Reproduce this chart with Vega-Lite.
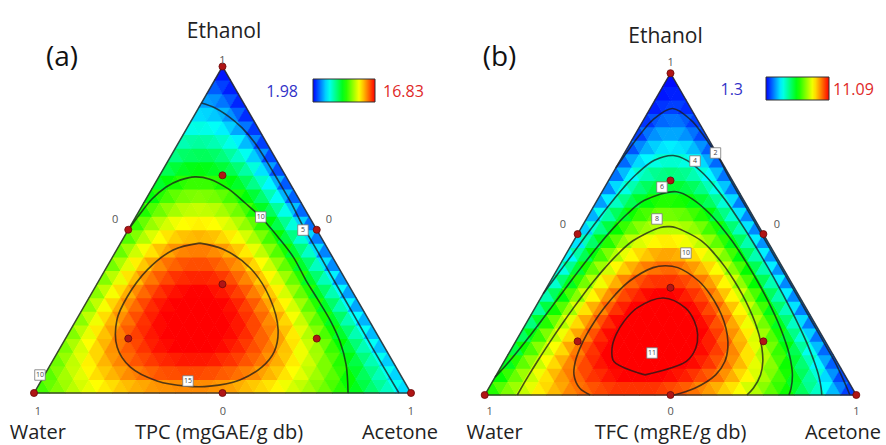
{
"$schema": "https://vega.github.io/schema/vega-lite/v6.json",
"padding": 0,
"spacing": 0,
"bounds": "flush",
"background": "white",
"config": {"view": {"stroke": null}, "font": "Open Sans"},
"resolve": {"scale": {"color": "independent"}, "legend": {"color": "independent"}},
"datasets": {
"tri": [{"o":0,"e":0,"a":0},{"o":1,"e":1,"a":0},{"o":2,"e":0,"a":1},{"o":3,"e":0,"a":0}],
"design": [{"e":0,"a":0},{"e":1,"a":0},{"e":0,"a":1},{"e":0.5,"a":0},{"e":0.5,"a":0.5},{"e":0,"a":0.5},{"e":0.3333,"a":0.3333},{"e":0.1667,"a":0.1667},{"e":0.6667,"a":0.1667},{"e":0.1667,"a":0.6667}],
"cellsA": [
{"r":0,"c":0,"v":10.4},{"r":0,"c":1,"v":10.9},{"r":0,"c":2,"v":11.3},{"r":0,"c":3,"v":11.7},{"r":0,"c":4,"v":12.1},{"r":0,"c":5,"v":12.5},{"r":0,"c":6,"v":12.8},{"r":0,"c":7,"v":13.1},{"r":0,"c":8,"v":13.4},{"r":0,"c":9,"v":13.6},{"r":0,"c":10,"v":13.9},{"r":0,"c":11,"v":14.1},{"r":0,"c":12,"v":14.3},{"r":0,"c":13,"v":14.4},{"r":0,"c":14,"v":14.6},{"r":0,"c":15,"v":14.7},{"r":0,"c":16,"v":14.7},{"r":0,"c":17,"v":14.8},{"r":0,"c":18,"v":14.8},{"r":0,"c":19,"v":14.8},{"r":0,"c":20,"v":14.8},{"r":0,"c":21,"v":14.8},{"r":0,"c":22,"v":14.7},{"r":0,"c":23,"v":14.6},{"r":0,"c":24,"v":14.5},{"r":0,"c":25,"v":14.3},{"r":0,"c":26,"v":14.1},{"r":0,"c":27,"v":13.9},{"r":0,"c":28,"v":13.7},{"r":0,"c":29,"v":13.5},{"r":0,"c":30,"v":13.2},{"r":0,"c":31,"v":12.9},{"r":0,"c":32,"v":12.5},{"r":0,"c":33,"v":12.2},{"r":0,"c":34,"v":11.8},{"r":0,"c":35,"v":11.4},{"r":0,"c":36,"v":11.0},{"r":0,"c":37,"v":10.5},{"r":0,"c":38,"v":10.0},{"r":0,"c":39,"v":9.5},{"r":0,"c":40,"v":9.0},{"r":0,"c":41,"v":8.4},{"r":0,"c":42,"v":7.8},{"r":0,"c":43,"v":7.2},{"r":0,"c":44,"v":6.6},{"r":0,"c":45,"v":5.9},{"r":0,"c":46,"v":5.2},
{"r":1,"c":0,"v":10.7},{"r":1,"c":1,"v":11.3},{"r":1,"c":2,"v":11.8},{"r":1,"c":3,"v":12.3},{"r":1,"c":4,"v":12.7},{"r":1,"c":5,"v":13.2},{"r":1,"c":6,"v":13.6},{"r":1,"c":7,"v":13.9},{"r":1,"c":8,"v":14.2},{"r":1,"c":9,"v":14.5},{"r":1,"c":10,"v":14.8},{"r":1,"c":11,"v":15.0},{"r":1,"c":12,"v":15.2},{"r":1,"c":13,"v":15.4},{"r":1,"c":14,"v":15.6},{"r":1,"c":15,"v":15.7},{"r":1,"c":16,"v":15.7},{"r":1,"c":17,"v":15.8},{"r":1,"c":18,"v":15.8},{"r":1,"c":19,"v":15.8},{"r":1,"c":20,"v":15.7},{"r":1,"c":21,"v":15.7},{"r":1,"c":22,"v":15.5},{"r":1,"c":23,"v":15.4},{"r":1,"c":24,"v":15.2},{"r":1,"c":25,"v":15.0},{"r":1,"c":26,"v":14.8},{"r":1,"c":27,"v":14.5},{"r":1,"c":28,"v":14.2},{"r":1,"c":29,"v":13.9},{"r":1,"c":30,"v":13.5},{"r":1,"c":31,"v":13.1},{"r":1,"c":32,"v":12.7},{"r":1,"c":33,"v":12.2},{"r":1,"c":34,"v":11.7},{"r":1,"c":35,"v":11.2},{"r":1,"c":36,"v":10.7},{"r":1,"c":37,"v":10.1},{"r":1,"c":38,"v":9.5},{"r":1,"c":39,"v":8.8},{"r":1,"c":40,"v":8.1},{"r":1,"c":41,"v":7.4},{"r":1,"c":42,"v":6.7},{"r":1,"c":43,"v":5.9},{"r":1,"c":44,"v":5.1},
{"r":2,"c":0,"v":11.0},{"r":2,"c":1,"v":11.6},{"r":2,"c":2,"v":12.2},{"r":2,"c":3,"v":12.7},{"r":2,"c":4,"v":13.3},{"r":2,"c":5,"v":13.7},{"r":2,"c":6,"v":14.2},{"r":2,"c":7,"v":14.6},{"r":2,"c":8,"v":14.9},{"r":2,"c":9,"v":15.3},{"r":2,"c":10,"v":15.6},{"r":2,"c":11,"v":15.8},{"r":2,"c":12,"v":16.0},{"r":2,"c":13,"v":16.2},{"r":2,"c":14,"v":16.3},{"r":2,"c":15,"v":16.4},{"r":2,"c":16,"v":16.5},{"r":2,"c":17,"v":16.5},{"r":2,"c":18,"v":16.5},{"r":2,"c":19,"v":16.5},{"r":2,"c":20,"v":16.4},{"r":2,"c":21,"v":16.2},{"r":2,"c":22,"v":16.1},{"r":2,"c":23,"v":15.9},{"r":2,"c":24,"v":15.6},{"r":2,"c":25,"v":15.4},{"r":2,"c":26,"v":15.1},{"r":2,"c":27,"v":14.7},{"r":2,"c":28,"v":14.3},{"r":2,"c":29,"v":13.9},{"r":2,"c":30,"v":13.4},{"r":2,"c":31,"v":12.9},{"r":2,"c":32,"v":12.4},{"r":2,"c":33,"v":11.8},{"r":2,"c":34,"v":11.2},{"r":2,"c":35,"v":10.6},{"r":2,"c":36,"v":9.9},{"r":2,"c":37,"v":9.2},{"r":2,"c":38,"v":8.4},{"r":2,"c":39,"v":7.6},{"r":2,"c":40,"v":6.8},{"r":2,"c":41,"v":5.9},{"r":2,"c":42,"v":5.0},
{"r":3,"c":0,"v":11.2},{"r":3,"c":1,"v":11.9},{"r":3,"c":2,"v":12.5},{"r":3,"c":3,"v":13.1},{"r":3,"c":4,"v":13.7},{"r":3,"c":5,"v":14.2},{"r":3,"c":6,"v":14.7},{"r":3,"c":7,"v":15.1},{"r":3,"c":8,"v":15.5},{"r":3,"c":9,"v":15.8},{"r":3,"c":10,"v":16.1},{"r":3,"c":11,"v":16.4},{"r":3,"c":12,"v":16.6},{"r":3,"c":13,"v":16.7},{"r":3,"c":14,"v":16.9},{"r":3,"c":15,"v":17.0},{"r":3,"c":16,"v":17.0},{"r":3,"c":17,"v":17.0},{"r":3,"c":18,"v":16.9},{"r":3,"c":19,"v":16.8},{"r":3,"c":20,"v":16.7},{"r":3,"c":21,"v":16.5},{"r":3,"c":22,"v":16.3},{"r":3,"c":23,"v":16.0},{"r":3,"c":24,"v":15.7},{"r":3,"c":25,"v":15.4},{"r":3,"c":26,"v":15.0},{"r":3,"c":27,"v":14.5},{"r":3,"c":28,"v":14.0},{"r":3,"c":29,"v":13.5},{"r":3,"c":30,"v":12.9},{"r":3,"c":31,"v":12.3},{"r":3,"c":32,"v":11.7},{"r":3,"c":33,"v":11.0},{"r":3,"c":34,"v":10.2},{"r":3,"c":35,"v":9.4},{"r":3,"c":36,"v":8.6},{"r":3,"c":37,"v":7.7},{"r":3,"c":38,"v":6.8},{"r":3,"c":39,"v":5.8},{"r":3,"c":40,"v":4.8},
{"r":4,"c":0,"v":11.3},{"r":4,"c":1,"v":12.1},{"r":4,"c":2,"v":12.8},{"r":4,"c":3,"v":13.4},{"r":4,"c":4,"v":14.0},{"r":4,"c":5,"v":14.5},{"r":4,"c":6,"v":15.0},{"r":4,"c":7,"v":15.5},{"r":4,"c":8,"v":15.9},{"r":4,"c":9,"v":16.2},{"r":4,"c":10,"v":16.5},{"r":4,"c":11,"v":16.7},{"r":4,"c":12,"v":16.9},{"r":4,"c":13,"v":17.1},{"r":4,"c":14,"v":17.2},{"r":4,"c":15,"v":17.2},{"r":4,"c":16,"v":17.2},{"r":4,"c":17,"v":17.2},{"r":4,"c":18,"v":17.1},{"r":4,"c":19,"v":16.9},{"r":4,"c":20,"v":16.7},{"r":4,"c":21,"v":16.5},{"r":4,"c":22,"v":16.2},{"r":4,"c":23,"v":15.8},{"r":4,"c":24,"v":15.4},{"r":4,"c":25,"v":15.0},{"r":4,"c":26,"v":14.5},{"r":4,"c":27,"v":14.0},{"r":4,"c":28,"v":13.4},{"r":4,"c":29,"v":12.7},{"r":4,"c":30,"v":12.0},{"r":4,"c":31,"v":11.3},{"r":4,"c":32,"v":10.5},{"r":4,"c":33,"v":9.6},{"r":4,"c":34,"v":8.8},{"r":4,"c":35,"v":7.8},{"r":4,"c":36,"v":6.8},{"r":4,"c":37,"v":5.8},{"r":4,"c":38,"v":4.7},
{"r":5,"c":0,"v":11.4},{"r":5,"c":1,"v":12.2},{"r":5,"c":2,"v":12.9},{"r":5,"c":3,"v":13.6},{"r":5,"c":4,"v":14.2},{"r":5,"c":5,"v":14.7},{"r":5,"c":6,"v":15.2},{"r":5,"c":7,"v":15.7},{"r":5,"c":8,"v":16.1},{"r":5,"c":9,"v":16.4},{"r":5,"c":10,"v":16.7},{"r":5,"c":11,"v":16.9},{"r":5,"c":12,"v":17.1},{"r":5,"c":13,"v":17.2},{"r":5,"c":14,"v":17.3},{"r":5,"c":15,"v":17.3},{"r":5,"c":16,"v":17.2},{"r":5,"c":17,"v":17.1},{"r":5,"c":18,"v":17.0},{"r":5,"c":19,"v":16.7},{"r":5,"c":20,"v":16.5},{"r":5,"c":21,"v":16.1},{"r":5,"c":22,"v":15.8},{"r":5,"c":23,"v":15.3},{"r":5,"c":24,"v":14.8},{"r":5,"c":25,"v":14.3},{"r":5,"c":26,"v":13.7},{"r":5,"c":27,"v":13.0},{"r":5,"c":28,"v":12.3},{"r":5,"c":29,"v":11.5},{"r":5,"c":30,"v":10.7},{"r":5,"c":31,"v":9.8},{"r":5,"c":32,"v":8.9},{"r":5,"c":33,"v":7.9},{"r":5,"c":34,"v":6.8},{"r":5,"c":35,"v":5.7},{"r":5,"c":36,"v":4.6},
{"r":6,"c":0,"v":11.4},{"r":6,"c":1,"v":12.2},{"r":6,"c":2,"v":13.0},{"r":6,"c":3,"v":13.7},{"r":6,"c":4,"v":14.3},{"r":6,"c":5,"v":14.8},{"r":6,"c":6,"v":15.3},{"r":6,"c":7,"v":15.8},{"r":6,"c":8,"v":16.2},{"r":6,"c":9,"v":16.5},{"r":6,"c":10,"v":16.7},{"r":6,"c":11,"v":16.9},{"r":6,"c":12,"v":17.1},{"r":6,"c":13,"v":17.1},{"r":6,"c":14,"v":17.1},{"r":6,"c":15,"v":17.1},{"r":6,"c":16,"v":17.0},{"r":6,"c":17,"v":16.8},{"r":6,"c":18,"v":16.6},{"r":6,"c":19,"v":16.3},{"r":6,"c":20,"v":15.9},{"r":6,"c":21,"v":15.5},{"r":6,"c":22,"v":15.0},{"r":6,"c":23,"v":14.4},{"r":6,"c":24,"v":13.8},{"r":6,"c":25,"v":13.2},{"r":6,"c":26,"v":12.5},{"r":6,"c":27,"v":11.7},{"r":6,"c":28,"v":10.8},{"r":6,"c":29,"v":9.9},{"r":6,"c":30,"v":8.9},{"r":6,"c":31,"v":7.9},{"r":6,"c":32,"v":6.8},{"r":6,"c":33,"v":5.6},{"r":6,"c":34,"v":4.4},
{"r":7,"c":0,"v":11.4},{"r":7,"c":1,"v":12.2},{"r":7,"c":2,"v":13.0},{"r":7,"c":3,"v":13.6},{"r":7,"c":4,"v":14.3},{"r":7,"c":5,"v":14.8},{"r":7,"c":6,"v":15.3},{"r":7,"c":7,"v":15.7},{"r":7,"c":8,"v":16.1},{"r":7,"c":9,"v":16.4},{"r":7,"c":10,"v":16.6},{"r":7,"c":11,"v":16.7},{"r":7,"c":12,"v":16.8},{"r":7,"c":13,"v":16.8},{"r":7,"c":14,"v":16.8},{"r":7,"c":15,"v":16.6},{"r":7,"c":16,"v":16.5},{"r":7,"c":17,"v":16.2},{"r":7,"c":18,"v":15.9},{"r":7,"c":19,"v":15.5},{"r":7,"c":20,"v":15.0},{"r":7,"c":21,"v":14.5},{"r":7,"c":22,"v":13.9},{"r":7,"c":23,"v":13.3},{"r":7,"c":24,"v":12.5},{"r":7,"c":25,"v":11.7},{"r":7,"c":26,"v":10.9},{"r":7,"c":27,"v":9.9},{"r":7,"c":28,"v":8.9},{"r":7,"c":29,"v":7.9},{"r":7,"c":30,"v":6.8},{"r":7,"c":31,"v":5.6},{"r":7,"c":32,"v":4.3},
{"r":8,"c":0,"v":11.3},{"r":8,"c":1,"v":12.1},{"r":8,"c":2,"v":12.8},{"r":8,"c":3,"v":13.5},{"r":8,"c":4,"v":14.1},{"r":8,"c":5,"v":14.7},{"r":8,"c":6,"v":15.1},{"r":8,"c":7,"v":15.5},{"r":8,"c":8,"v":15.8},{"r":8,"c":9,"v":16.1},{"r":8,"c":10,"v":16.2},{"r":8,"c":11,"v":16.3},{"r":8,"c":12,"v":16.3},{"r":8,"c":13,"v":16.3},{"r":8,"c":14,"v":16.2},{"r":8,"c":15,"v":16.0},{"r":8,"c":16,"v":15.7},{"r":8,"c":17,"v":15.3},{"r":8,"c":18,"v":14.9},{"r":8,"c":19,"v":14.4},{"r":8,"c":20,"v":13.9},{"r":8,"c":21,"v":13.2},{"r":8,"c":22,"v":12.5},{"r":8,"c":23,"v":11.7},{"r":8,"c":24,"v":10.9},{"r":8,"c":25,"v":9.9},{"r":8,"c":26,"v":8.9},{"r":8,"c":27,"v":7.8},{"r":8,"c":28,"v":6.7},{"r":8,"c":29,"v":5.5},{"r":8,"c":30,"v":4.2},
{"r":9,"c":0,"v":11.1},{"r":9,"c":1,"v":11.9},{"r":9,"c":2,"v":12.7},{"r":9,"c":3,"v":13.3},{"r":9,"c":4,"v":13.9},{"r":9,"c":5,"v":14.4},{"r":9,"c":6,"v":14.8},{"r":9,"c":7,"v":15.2},{"r":9,"c":8,"v":15.4},{"r":9,"c":9,"v":15.6},{"r":9,"c":10,"v":15.7},{"r":9,"c":11,"v":15.7},{"r":9,"c":12,"v":15.7},{"r":9,"c":13,"v":15.5},{"r":9,"c":14,"v":15.3},{"r":9,"c":15,"v":15.0},{"r":9,"c":16,"v":14.7},{"r":9,"c":17,"v":14.2},{"r":9,"c":18,"v":13.7},{"r":9,"c":19,"v":13.1},{"r":9,"c":20,"v":12.4},{"r":9,"c":21,"v":11.6},{"r":9,"c":22,"v":10.8},{"r":9,"c":23,"v":9.8},{"r":9,"c":24,"v":8.8},{"r":9,"c":25,"v":7.8},{"r":9,"c":26,"v":6.6},{"r":9,"c":27,"v":5.3},{"r":9,"c":28,"v":4.0},
{"r":10,"c":0,"v":10.9},{"r":10,"c":1,"v":11.7},{"r":10,"c":2,"v":12.4},{"r":10,"c":3,"v":13.0},{"r":10,"c":4,"v":13.5},{"r":10,"c":5,"v":14.0},{"r":10,"c":6,"v":14.4},{"r":10,"c":7,"v":14.7},{"r":10,"c":8,"v":14.9},{"r":10,"c":9,"v":15.0},{"r":10,"c":10,"v":15.0},{"r":10,"c":11,"v":15.0},{"r":10,"c":12,"v":14.8},{"r":10,"c":13,"v":14.6},{"r":10,"c":14,"v":14.3},{"r":10,"c":15,"v":13.9},{"r":10,"c":16,"v":13.4},{"r":10,"c":17,"v":12.8},{"r":10,"c":18,"v":12.2},{"r":10,"c":19,"v":11.4},{"r":10,"c":20,"v":10.6},{"r":10,"c":21,"v":9.7},{"r":10,"c":22,"v":8.7},{"r":10,"c":23,"v":7.6},{"r":10,"c":24,"v":6.5},{"r":10,"c":25,"v":5.2},{"r":10,"c":26,"v":3.9},
{"r":11,"c":0,"v":10.6},{"r":11,"c":1,"v":11.3},{"r":11,"c":2,"v":12.0},{"r":11,"c":3,"v":12.6},{"r":11,"c":4,"v":13.1},{"r":11,"c":5,"v":13.5},{"r":11,"c":6,"v":13.8},{"r":11,"c":7,"v":14.0},{"r":11,"c":8,"v":14.1},{"r":11,"c":9,"v":14.2},{"r":11,"c":10,"v":14.1},{"r":11,"c":11,"v":14.0},{"r":11,"c":12,"v":13.7},{"r":11,"c":13,"v":13.4},{"r":11,"c":14,"v":13.0},{"r":11,"c":15,"v":12.5},{"r":11,"c":16,"v":11.9},{"r":11,"c":17,"v":11.2},{"r":11,"c":18,"v":10.4},{"r":11,"c":19,"v":9.5},{"r":11,"c":20,"v":8.5},{"r":11,"c":21,"v":7.5},{"r":11,"c":22,"v":6.3},{"r":11,"c":23,"v":5.1},{"r":11,"c":24,"v":3.8},
{"r":12,"c":0,"v":10.2},{"r":12,"c":1,"v":10.9},{"r":12,"c":2,"v":11.6},{"r":12,"c":3,"v":12.1},{"r":12,"c":4,"v":12.5},{"r":12,"c":5,"v":12.9},{"r":12,"c":6,"v":13.1},{"r":12,"c":7,"v":13.2},{"r":12,"c":8,"v":13.3},{"r":12,"c":9,"v":13.2},{"r":12,"c":10,"v":13.1},{"r":12,"c":11,"v":12.8},{"r":12,"c":12,"v":12.5},{"r":12,"c":13,"v":12.0},{"r":12,"c":14,"v":11.5},{"r":12,"c":15,"v":10.8},{"r":12,"c":16,"v":10.1},{"r":12,"c":17,"v":9.3},{"r":12,"c":18,"v":8.3},{"r":12,"c":19,"v":7.3},{"r":12,"c":20,"v":6.2},{"r":12,"c":21,"v":5.0},{"r":12,"c":22,"v":3.6},
{"r":13,"c":0,"v":9.8},{"r":13,"c":1,"v":10.5},{"r":13,"c":2,"v":11.0},{"r":13,"c":3,"v":11.5},{"r":13,"c":4,"v":11.8},{"r":13,"c":5,"v":12.1},{"r":13,"c":6,"v":12.2},{"r":13,"c":7,"v":12.3},{"r":13,"c":8,"v":12.2},{"r":13,"c":9,"v":12.1},{"r":13,"c":10,"v":11.8},{"r":13,"c":11,"v":11.4},{"r":13,"c":12,"v":11.0},{"r":13,"c":13,"v":10.4},{"r":13,"c":14,"v":9.7},{"r":13,"c":15,"v":8.9},{"r":13,"c":16,"v":8.1},{"r":13,"c":17,"v":7.1},{"r":13,"c":18,"v":6.0},{"r":13,"c":19,"v":4.8},{"r":13,"c":20,"v":3.5},
{"r":14,"c":0,"v":9.3},{"r":14,"c":1,"v":9.9},{"r":14,"c":2,"v":10.4},{"r":14,"c":3,"v":10.8},{"r":14,"c":4,"v":11.1},{"r":14,"c":5,"v":11.2},{"r":14,"c":6,"v":11.3},{"r":14,"c":7,"v":11.2},{"r":14,"c":8,"v":11.1},{"r":14,"c":9,"v":10.8},{"r":14,"c":10,"v":10.4},{"r":14,"c":11,"v":9.9},{"r":14,"c":12,"v":9.3},{"r":14,"c":13,"v":8.6},{"r":14,"c":14,"v":7.8},{"r":14,"c":15,"v":6.8},{"r":14,"c":16,"v":5.8},{"r":14,"c":17,"v":4.6},{"r":14,"c":18,"v":3.4},
{"r":15,"c":0,"v":8.8},{"r":15,"c":1,"v":9.3},{"r":15,"c":2,"v":9.7},{"r":15,"c":3,"v":10.0},{"r":15,"c":4,"v":10.2},{"r":15,"c":5,"v":10.2},{"r":15,"c":6,"v":10.2},{"r":15,"c":7,"v":10.0},{"r":15,"c":8,"v":9.7},{"r":15,"c":9,"v":9.3},{"r":15,"c":10,"v":8.8},{"r":15,"c":11,"v":8.1},{"r":15,"c":12,"v":7.4},{"r":15,"c":13,"v":6.5},{"r":15,"c":14,"v":5.6},{"r":15,"c":15,"v":4.5},{"r":15,"c":16,"v":3.3},
{"r":16,"c":0,"v":8.2},{"r":16,"c":1,"v":8.6},{"r":16,"c":2,"v":8.9},{"r":16,"c":3,"v":9.1},{"r":16,"c":4,"v":9.2},{"r":16,"c":5,"v":9.1},{"r":16,"c":6,"v":8.9},{"r":16,"c":7,"v":8.6},{"r":16,"c":8,"v":8.2},{"r":16,"c":9,"v":7.7},{"r":16,"c":10,"v":7.0},{"r":16,"c":11,"v":6.2},{"r":16,"c":12,"v":5.3},{"r":16,"c":13,"v":4.3},{"r":16,"c":14,"v":3.1},
{"r":17,"c":0,"v":7.5},{"r":17,"c":1,"v":7.9},{"r":17,"c":2,"v":8.0},{"r":17,"c":3,"v":8.1},{"r":17,"c":4,"v":8.1},{"r":17,"c":5,"v":7.9},{"r":17,"c":6,"v":7.6},{"r":17,"c":7,"v":7.1},{"r":17,"c":8,"v":6.5},{"r":17,"c":9,"v":5.9},{"r":17,"c":10,"v":5.0},{"r":17,"c":11,"v":4.1},{"r":17,"c":12,"v":3.0},
{"r":18,"c":0,"v":6.8},{"r":18,"c":1,"v":7.0},{"r":18,"c":2,"v":7.1},{"r":18,"c":3,"v":7.0},{"r":18,"c":4,"v":6.8},{"r":18,"c":5,"v":6.5},{"r":18,"c":6,"v":6.0},{"r":18,"c":7,"v":5.5},{"r":18,"c":8,"v":4.7},{"r":18,"c":9,"v":3.9},{"r":18,"c":10,"v":2.9},
{"r":19,"c":0,"v":6.0},{"r":19,"c":1,"v":6.1},{"r":19,"c":2,"v":6.0},{"r":19,"c":3,"v":5.8},{"r":19,"c":4,"v":5.5},{"r":19,"c":5,"v":5.0},{"r":19,"c":6,"v":4.4},{"r":19,"c":7,"v":3.7},{"r":19,"c":8,"v":2.8},
{"r":20,"c":0,"v":5.2},{"r":20,"c":1,"v":5.1},{"r":20,"c":2,"v":4.9},{"r":20,"c":3,"v":4.6},{"r":20,"c":4,"v":4.1},{"r":20,"c":5,"v":3.4},{"r":20,"c":6,"v":2.6},
{"r":21,"c":0,"v":4.3},{"r":21,"c":1,"v":4.1},{"r":21,"c":2,"v":3.7},{"r":21,"c":3,"v":3.2},{"r":21,"c":4,"v":2.5},
{"r":22,"c":0,"v":3.3},{"r":22,"c":1,"v":2.9},{"r":22,"c":2,"v":2.4},
{"r":23,"c":0,"v":2.3}
],
"cellsB": [
{"r":0,"c":0,"v":6.5},{"r":0,"c":1,"v":7.0},{"r":0,"c":2,"v":7.4},{"r":0,"c":3,"v":7.7},{"r":0,"c":4,"v":8.1},{"r":0,"c":5,"v":8.4},{"r":0,"c":6,"v":8.8},{"r":0,"c":7,"v":9.0},{"r":0,"c":8,"v":9.3},{"r":0,"c":9,"v":9.5},{"r":0,"c":10,"v":9.8},{"r":0,"c":11,"v":10.0},{"r":0,"c":12,"v":10.1},{"r":0,"c":13,"v":10.3},{"r":0,"c":14,"v":10.4},{"r":0,"c":15,"v":10.5},{"r":0,"c":16,"v":10.6},{"r":0,"c":17,"v":10.6},{"r":0,"c":18,"v":10.6},{"r":0,"c":19,"v":10.6},{"r":0,"c":20,"v":10.6},{"r":0,"c":21,"v":10.6},{"r":0,"c":22,"v":10.5},{"r":0,"c":23,"v":10.4},{"r":0,"c":24,"v":10.3},{"r":0,"c":25,"v":10.2},{"r":0,"c":26,"v":10.0},{"r":0,"c":27,"v":9.8},{"r":0,"c":28,"v":9.6},{"r":0,"c":29,"v":9.4},{"r":0,"c":30,"v":9.1},{"r":0,"c":31,"v":8.9},{"r":0,"c":32,"v":8.6},{"r":0,"c":33,"v":8.2},{"r":0,"c":34,"v":7.9},{"r":0,"c":35,"v":7.5},{"r":0,"c":36,"v":7.1},{"r":0,"c":37,"v":6.7},{"r":0,"c":38,"v":6.3},{"r":0,"c":39,"v":5.8},{"r":0,"c":40,"v":5.3},{"r":0,"c":41,"v":4.8},{"r":0,"c":42,"v":4.3},{"r":0,"c":43,"v":3.7},{"r":0,"c":44,"v":3.1},{"r":0,"c":45,"v":2.5},{"r":0,"c":46,"v":1.9},
{"r":1,"c":0,"v":6.2},{"r":1,"c":1,"v":6.7},{"r":1,"c":2,"v":7.2},{"r":1,"c":3,"v":7.7},{"r":1,"c":4,"v":8.1},{"r":1,"c":5,"v":8.5},{"r":1,"c":6,"v":8.9},{"r":1,"c":7,"v":9.3},{"r":1,"c":8,"v":9.6},{"r":1,"c":9,"v":9.9},{"r":1,"c":10,"v":10.1},{"r":1,"c":11,"v":10.4},{"r":1,"c":12,"v":10.6},{"r":1,"c":13,"v":10.7},{"r":1,"c":14,"v":10.9},{"r":1,"c":15,"v":11.0},{"r":1,"c":16,"v":11.1},{"r":1,"c":17,"v":11.2},{"r":1,"c":18,"v":11.2},{"r":1,"c":19,"v":11.2},{"r":1,"c":20,"v":11.2},{"r":1,"c":21,"v":11.1},{"r":1,"c":22,"v":11.0},{"r":1,"c":23,"v":10.9},{"r":1,"c":24,"v":10.8},{"r":1,"c":25,"v":10.6},{"r":1,"c":26,"v":10.4},{"r":1,"c":27,"v":10.2},{"r":1,"c":28,"v":10.0},{"r":1,"c":29,"v":9.7},{"r":1,"c":30,"v":9.4},{"r":1,"c":31,"v":9.0},{"r":1,"c":32,"v":8.7},{"r":1,"c":33,"v":8.3},{"r":1,"c":34,"v":7.8},{"r":1,"c":35,"v":7.4},{"r":1,"c":36,"v":6.9},{"r":1,"c":37,"v":6.4},{"r":1,"c":38,"v":5.9},{"r":1,"c":39,"v":5.3},{"r":1,"c":40,"v":4.7},{"r":1,"c":41,"v":4.1},{"r":1,"c":42,"v":3.4},{"r":1,"c":43,"v":2.7},{"r":1,"c":44,"v":2.0},
{"r":2,"c":0,"v":5.9},{"r":2,"c":1,"v":6.5},{"r":2,"c":2,"v":7.1},{"r":2,"c":3,"v":7.6},{"r":2,"c":4,"v":8.1},{"r":2,"c":5,"v":8.6},{"r":2,"c":6,"v":9.0},{"r":2,"c":7,"v":9.4},{"r":2,"c":8,"v":9.8},{"r":2,"c":9,"v":10.1},{"r":2,"c":10,"v":10.4},{"r":2,"c":11,"v":10.7},{"r":2,"c":12,"v":10.9},{"r":2,"c":13,"v":11.1},{"r":2,"c":14,"v":11.3},{"r":2,"c":15,"v":11.4},{"r":2,"c":16,"v":11.5},{"r":2,"c":17,"v":11.5},{"r":2,"c":18,"v":11.6},{"r":2,"c":19,"v":11.6},{"r":2,"c":20,"v":11.5},{"r":2,"c":21,"v":11.5},{"r":2,"c":22,"v":11.3},{"r":2,"c":23,"v":11.2},{"r":2,"c":24,"v":11.0},{"r":2,"c":25,"v":10.8},{"r":2,"c":26,"v":10.6},{"r":2,"c":27,"v":10.3},{"r":2,"c":28,"v":10.0},{"r":2,"c":29,"v":9.7},{"r":2,"c":30,"v":9.3},{"r":2,"c":31,"v":8.9},{"r":2,"c":32,"v":8.4},{"r":2,"c":33,"v":8.0},{"r":2,"c":34,"v":7.5},{"r":2,"c":35,"v":6.9},{"r":2,"c":36,"v":6.3},{"r":2,"c":37,"v":5.7},{"r":2,"c":38,"v":5.1},{"r":2,"c":39,"v":4.4},{"r":2,"c":40,"v":3.7},{"r":2,"c":41,"v":2.9},{"r":2,"c":42,"v":2.2},
{"r":3,"c":0,"v":5.6},{"r":3,"c":1,"v":6.3},{"r":3,"c":2,"v":6.9},{"r":3,"c":3,"v":7.5},{"r":3,"c":4,"v":8.1},{"r":3,"c":5,"v":8.6},{"r":3,"c":6,"v":9.0},{"r":3,"c":7,"v":9.5},{"r":3,"c":8,"v":9.9},{"r":3,"c":9,"v":10.3},{"r":3,"c":10,"v":10.6},{"r":3,"c":11,"v":10.9},{"r":3,"c":12,"v":11.1},{"r":3,"c":13,"v":11.3},{"r":3,"c":14,"v":11.5},{"r":3,"c":15,"v":11.6},{"r":3,"c":16,"v":11.7},{"r":3,"c":17,"v":11.8},{"r":3,"c":18,"v":11.8},{"r":3,"c":19,"v":11.7},{"r":3,"c":20,"v":11.7},{"r":3,"c":21,"v":11.6},{"r":3,"c":22,"v":11.4},{"r":3,"c":23,"v":11.3},{"r":3,"c":24,"v":11.0},{"r":3,"c":25,"v":10.8},{"r":3,"c":26,"v":10.5},{"r":3,"c":27,"v":10.2},{"r":3,"c":28,"v":9.8},{"r":3,"c":29,"v":9.4},{"r":3,"c":30,"v":8.9},{"r":3,"c":31,"v":8.4},{"r":3,"c":32,"v":7.9},{"r":3,"c":33,"v":7.3},{"r":3,"c":34,"v":6.7},{"r":3,"c":35,"v":6.1},{"r":3,"c":36,"v":5.4},{"r":3,"c":37,"v":4.7},{"r":3,"c":38,"v":3.9},{"r":3,"c":39,"v":3.1},{"r":3,"c":40,"v":2.3},
{"r":4,"c":0,"v":5.3},{"r":4,"c":1,"v":6.0},{"r":4,"c":2,"v":6.7},{"r":4,"c":3,"v":7.4},{"r":4,"c":4,"v":8.0},{"r":4,"c":5,"v":8.5},{"r":4,"c":6,"v":9.0},{"r":4,"c":7,"v":9.5},{"r":4,"c":8,"v":9.9},{"r":4,"c":9,"v":10.3},{"r":4,"c":10,"v":10.7},{"r":4,"c":11,"v":11.0},{"r":4,"c":12,"v":11.2},{"r":4,"c":13,"v":11.4},{"r":4,"c":14,"v":11.6},{"r":4,"c":15,"v":11.7},{"r":4,"c":16,"v":11.8},{"r":4,"c":17,"v":11.8},{"r":4,"c":18,"v":11.8},{"r":4,"c":19,"v":11.7},{"r":4,"c":20,"v":11.6},{"r":4,"c":21,"v":11.5},{"r":4,"c":22,"v":11.3},{"r":4,"c":23,"v":11.1},{"r":4,"c":24,"v":10.8},{"r":4,"c":25,"v":10.5},{"r":4,"c":26,"v":10.1},{"r":4,"c":27,"v":9.7},{"r":4,"c":28,"v":9.3},{"r":4,"c":29,"v":8.8},{"r":4,"c":30,"v":8.3},{"r":4,"c":31,"v":7.7},{"r":4,"c":32,"v":7.0},{"r":4,"c":33,"v":6.4},{"r":4,"c":34,"v":5.7},{"r":4,"c":35,"v":4.9},{"r":4,"c":36,"v":4.1},{"r":4,"c":37,"v":3.3},{"r":4,"c":38,"v":2.4},
{"r":5,"c":0,"v":5.0},{"r":5,"c":1,"v":5.8},{"r":5,"c":2,"v":6.5},{"r":5,"c":3,"v":7.2},{"r":5,"c":4,"v":7.9},{"r":5,"c":5,"v":8.4},{"r":5,"c":6,"v":9.0},{"r":5,"c":7,"v":9.5},{"r":5,"c":8,"v":9.9},{"r":5,"c":9,"v":10.3},{"r":5,"c":10,"v":10.7},{"r":5,"c":11,"v":11.0},{"r":5,"c":12,"v":11.2},{"r":5,"c":13,"v":11.4},{"r":5,"c":14,"v":11.5},{"r":5,"c":15,"v":11.6},{"r":5,"c":16,"v":11.7},{"r":5,"c":17,"v":11.7},{"r":5,"c":18,"v":11.7},{"r":5,"c":19,"v":11.6},{"r":5,"c":20,"v":11.4},{"r":5,"c":21,"v":11.2},{"r":5,"c":22,"v":11.0},{"r":5,"c":23,"v":10.7},{"r":5,"c":24,"v":10.3},{"r":5,"c":25,"v":10.0},{"r":5,"c":26,"v":9.5},{"r":5,"c":27,"v":9.0},{"r":5,"c":28,"v":8.5},{"r":5,"c":29,"v":7.9},{"r":5,"c":30,"v":7.3},{"r":5,"c":31,"v":6.6},{"r":5,"c":32,"v":5.9},{"r":5,"c":33,"v":5.1},{"r":5,"c":34,"v":4.3},{"r":5,"c":35,"v":3.4},{"r":5,"c":36,"v":2.5},
{"r":6,"c":0,"v":4.7},{"r":6,"c":1,"v":5.6},{"r":6,"c":2,"v":6.3},{"r":6,"c":3,"v":7.0},{"r":6,"c":4,"v":7.7},{"r":6,"c":5,"v":8.3},{"r":6,"c":6,"v":8.9},{"r":6,"c":7,"v":9.4},{"r":6,"c":8,"v":9.8},{"r":6,"c":9,"v":10.2},{"r":6,"c":10,"v":10.6},{"r":6,"c":11,"v":10.8},{"r":6,"c":12,"v":11.1},{"r":6,"c":13,"v":11.3},{"r":6,"c":14,"v":11.4},{"r":6,"c":15,"v":11.4},{"r":6,"c":16,"v":11.5},{"r":6,"c":17,"v":11.4},{"r":6,"c":18,"v":11.3},{"r":6,"c":19,"v":11.2},{"r":6,"c":20,"v":11.0},{"r":6,"c":21,"v":10.7},{"r":6,"c":22,"v":10.4},{"r":6,"c":23,"v":10.1},{"r":6,"c":24,"v":9.7},{"r":6,"c":25,"v":9.2},{"r":6,"c":26,"v":8.7},{"r":6,"c":27,"v":8.1},{"r":6,"c":28,"v":7.5},{"r":6,"c":29,"v":6.8},{"r":6,"c":30,"v":6.0},{"r":6,"c":31,"v":5.2},{"r":6,"c":32,"v":4.4},{"r":6,"c":33,"v":3.5},{"r":6,"c":34,"v":2.5},
{"r":7,"c":0,"v":4.5},{"r":7,"c":1,"v":5.3},{"r":7,"c":2,"v":6.1},{"r":7,"c":3,"v":6.9},{"r":7,"c":4,"v":7.5},{"r":7,"c":5,"v":8.2},{"r":7,"c":6,"v":8.7},{"r":7,"c":7,"v":9.2},{"r":7,"c":8,"v":9.7},{"r":7,"c":9,"v":10.0},{"r":7,"c":10,"v":10.4},{"r":7,"c":11,"v":10.6},{"r":7,"c":12,"v":10.8},{"r":7,"c":13,"v":11.0},{"r":7,"c":14,"v":11.1},{"r":7,"c":15,"v":11.1},{"r":7,"c":16,"v":11.1},{"r":7,"c":17,"v":11.0},{"r":7,"c":18,"v":10.8},{"r":7,"c":19,"v":10.6},{"r":7,"c":20,"v":10.4},{"r":7,"c":21,"v":10.0},{"r":7,"c":22,"v":9.7},{"r":7,"c":23,"v":9.2},{"r":7,"c":24,"v":8.7},{"r":7,"c":25,"v":8.2},{"r":7,"c":26,"v":7.5},{"r":7,"c":27,"v":6.9},{"r":7,"c":28,"v":6.1},{"r":7,"c":29,"v":5.3},{"r":7,"c":30,"v":4.5},{"r":7,"c":31,"v":3.6},{"r":7,"c":32,"v":2.6},
{"r":8,"c":0,"v":4.2},{"r":8,"c":1,"v":5.1},{"r":8,"c":2,"v":5.9},{"r":8,"c":3,"v":6.6},{"r":8,"c":4,"v":7.3},{"r":8,"c":5,"v":7.9},{"r":8,"c":6,"v":8.5},{"r":8,"c":7,"v":9.0},{"r":8,"c":8,"v":9.4},{"r":8,"c":9,"v":9.8},{"r":8,"c":10,"v":10.1},{"r":8,"c":11,"v":10.3},{"r":8,"c":12,"v":10.5},{"r":8,"c":13,"v":10.6},{"r":8,"c":14,"v":10.6},{"r":8,"c":15,"v":10.6},{"r":8,"c":16,"v":10.5},{"r":8,"c":17,"v":10.4},{"r":8,"c":18,"v":10.2},{"r":8,"c":19,"v":9.9},{"r":8,"c":20,"v":9.6},{"r":8,"c":21,"v":9.2},{"r":8,"c":22,"v":8.7},{"r":8,"c":23,"v":8.2},{"r":8,"c":24,"v":7.6},{"r":8,"c":25,"v":6.9},{"r":8,"c":26,"v":6.2},{"r":8,"c":27,"v":5.4},{"r":8,"c":28,"v":4.5},{"r":8,"c":29,"v":3.6},{"r":8,"c":30,"v":2.6},
{"r":9,"c":0,"v":4.0},{"r":9,"c":1,"v":4.8},{"r":9,"c":2,"v":5.7},{"r":9,"c":3,"v":6.4},{"r":9,"c":4,"v":7.1},{"r":9,"c":5,"v":7.7},{"r":9,"c":6,"v":8.2},{"r":9,"c":7,"v":8.7},{"r":9,"c":8,"v":9.1},{"r":9,"c":9,"v":9.4},{"r":9,"c":10,"v":9.7},{"r":9,"c":11,"v":9.9},{"r":9,"c":12,"v":10.0},{"r":9,"c":13,"v":10.1},{"r":9,"c":14,"v":10.1},{"r":9,"c":15,"v":10.0},{"r":9,"c":16,"v":9.8},{"r":9,"c":17,"v":9.6},{"r":9,"c":18,"v":9.3},{"r":9,"c":19,"v":9.0},{"r":9,"c":20,"v":8.6},{"r":9,"c":21,"v":8.1},{"r":9,"c":22,"v":7.5},{"r":9,"c":23,"v":6.9},{"r":9,"c":24,"v":6.2},{"r":9,"c":25,"v":5.4},{"r":9,"c":26,"v":4.5},{"r":9,"c":27,"v":3.6},{"r":9,"c":28,"v":2.7},
{"r":10,"c":0,"v":3.7},{"r":10,"c":1,"v":4.6},{"r":10,"c":2,"v":5.4},{"r":10,"c":3,"v":6.1},{"r":10,"c":4,"v":6.8},{"r":10,"c":5,"v":7.4},{"r":10,"c":6,"v":7.9},{"r":10,"c":7,"v":8.4},{"r":10,"c":8,"v":8.7},{"r":10,"c":9,"v":9.0},{"r":10,"c":10,"v":9.2},{"r":10,"c":11,"v":9.4},{"r":10,"c":12,"v":9.5},{"r":10,"c":13,"v":9.5},{"r":10,"c":14,"v":9.4},{"r":10,"c":15,"v":9.2},{"r":10,"c":16,"v":9.0},{"r":10,"c":17,"v":8.7},{"r":10,"c":18,"v":8.3},{"r":10,"c":19,"v":7.9},{"r":10,"c":20,"v":7.4},{"r":10,"c":21,"v":6.8},{"r":10,"c":22,"v":6.1},{"r":10,"c":23,"v":5.3},{"r":10,"c":24,"v":4.5},{"r":10,"c":25,"v":3.6},{"r":10,"c":26,"v":2.7},
{"r":11,"c":0,"v":3.5},{"r":11,"c":1,"v":4.4},{"r":11,"c":2,"v":5.2},{"r":11,"c":3,"v":5.9},{"r":11,"c":4,"v":6.5},{"r":11,"c":5,"v":7.1},{"r":11,"c":6,"v":7.6},{"r":11,"c":7,"v":8.0},{"r":11,"c":8,"v":8.3},{"r":11,"c":9,"v":8.5},{"r":11,"c":10,"v":8.7},{"r":11,"c":11,"v":8.8},{"r":11,"c":12,"v":8.8},{"r":11,"c":13,"v":8.7},{"r":11,"c":14,"v":8.5},{"r":11,"c":15,"v":8.3},{"r":11,"c":16,"v":8.0},{"r":11,"c":17,"v":7.6},{"r":11,"c":18,"v":7.1},{"r":11,"c":19,"v":6.6},{"r":11,"c":20,"v":6.0},{"r":11,"c":21,"v":5.3},{"r":11,"c":22,"v":4.5},{"r":11,"c":23,"v":3.6},{"r":11,"c":24,"v":2.7},
{"r":12,"c":0,"v":3.3},{"r":12,"c":1,"v":4.1},{"r":12,"c":2,"v":4.9},{"r":12,"c":3,"v":5.6},{"r":12,"c":4,"v":6.2},{"r":12,"c":5,"v":6.7},{"r":12,"c":6,"v":7.1},{"r":12,"c":7,"v":7.5},{"r":12,"c":8,"v":7.7},{"r":12,"c":9,"v":7.9},{"r":12,"c":10,"v":8.0},{"r":12,"c":11,"v":8.0},{"r":12,"c":12,"v":8.0},{"r":12,"c":13,"v":7.8},{"r":12,"c":14,"v":7.6},{"r":12,"c":15,"v":7.3},{"r":12,"c":16,"v":6.8},{"r":12,"c":17,"v":6.4},{"r":12,"c":18,"v":5.8},{"r":12,"c":19,"v":5.1},{"r":12,"c":20,"v":4.4},{"r":12,"c":21,"v":3.5},{"r":12,"c":22,"v":2.6},
{"r":13,"c":0,"v":3.0},{"r":13,"c":1,"v":3.9},{"r":13,"c":2,"v":4.6},{"r":13,"c":3,"v":5.3},{"r":13,"c":4,"v":5.8},{"r":13,"c":5,"v":6.3},{"r":13,"c":6,"v":6.7},{"r":13,"c":7,"v":6.9},{"r":13,"c":8,"v":7.2},{"r":13,"c":9,"v":7.3},{"r":13,"c":10,"v":7.3},{"r":13,"c":11,"v":7.2},{"r":13,"c":12,"v":7.1},{"r":13,"c":13,"v":6.8},{"r":13,"c":14,"v":6.5},{"r":13,"c":15,"v":6.1},{"r":13,"c":16,"v":5.5},{"r":13,"c":17,"v":4.9},{"r":13,"c":18,"v":4.2},{"r":13,"c":19,"v":3.5},{"r":13,"c":20,"v":2.6},
{"r":14,"c":0,"v":2.8},{"r":14,"c":1,"v":3.6},{"r":14,"c":2,"v":4.3},{"r":14,"c":3,"v":4.9},{"r":14,"c":4,"v":5.4},{"r":14,"c":5,"v":5.8},{"r":14,"c":6,"v":6.1},{"r":14,"c":7,"v":6.4},{"r":14,"c":8,"v":6.5},{"r":14,"c":9,"v":6.5},{"r":14,"c":10,"v":6.4},{"r":14,"c":11,"v":6.3},{"r":14,"c":12,"v":6.0},{"r":14,"c":13,"v":5.7},{"r":14,"c":14,"v":5.3},{"r":14,"c":15,"v":4.7},{"r":14,"c":16,"v":4.1},{"r":14,"c":17,"v":3.4},{"r":14,"c":18,"v":2.5},
{"r":15,"c":0,"v":2.6},{"r":15,"c":1,"v":3.4},{"r":15,"c":2,"v":4.0},{"r":15,"c":3,"v":4.5},{"r":15,"c":4,"v":5.0},{"r":15,"c":5,"v":5.3},{"r":15,"c":6,"v":5.6},{"r":15,"c":7,"v":5.7},{"r":15,"c":8,"v":5.7},{"r":15,"c":9,"v":5.7},{"r":15,"c":10,"v":5.5},{"r":15,"c":11,"v":5.3},{"r":15,"c":12,"v":4.9},{"r":15,"c":13,"v":4.4},{"r":15,"c":14,"v":3.9},{"r":15,"c":15,"v":3.2},{"r":15,"c":16,"v":2.5},
{"r":16,"c":0,"v":2.4},{"r":16,"c":1,"v":3.1},{"r":16,"c":2,"v":3.7},{"r":16,"c":3,"v":4.2},{"r":16,"c":4,"v":4.5},{"r":16,"c":5,"v":4.8},{"r":16,"c":6,"v":4.9},{"r":16,"c":7,"v":5.0},{"r":16,"c":8,"v":4.9},{"r":16,"c":9,"v":4.8},{"r":16,"c":10,"v":4.5},{"r":16,"c":11,"v":4.1},{"r":16,"c":12,"v":3.7},{"r":16,"c":13,"v":3.1},{"r":16,"c":14,"v":2.4},
{"r":17,"c":0,"v":2.3},{"r":17,"c":1,"v":2.9},{"r":17,"c":2,"v":3.4},{"r":17,"c":3,"v":3.7},{"r":17,"c":4,"v":4.0},{"r":17,"c":5,"v":4.2},{"r":17,"c":6,"v":4.2},{"r":17,"c":7,"v":4.2},{"r":17,"c":8,"v":4.0},{"r":17,"c":9,"v":3.8},{"r":17,"c":10,"v":3.4},{"r":17,"c":11,"v":2.9},{"r":17,"c":12,"v":2.3},
{"r":18,"c":0,"v":2.1},{"r":18,"c":1,"v":2.6},{"r":18,"c":2,"v":3.0},{"r":18,"c":3,"v":3.3},{"r":18,"c":4,"v":3.5},{"r":18,"c":5,"v":3.6},{"r":18,"c":6,"v":3.5},{"r":18,"c":7,"v":3.4},{"r":18,"c":8,"v":3.1},{"r":18,"c":9,"v":2.7},{"r":18,"c":10,"v":2.2},
{"r":19,"c":0,"v":1.9},{"r":19,"c":1,"v":2.4},{"r":19,"c":2,"v":2.7},{"r":19,"c":3,"v":2.9},{"r":19,"c":4,"v":2.9},{"r":19,"c":5,"v":2.9},{"r":19,"c":6,"v":2.7},{"r":19,"c":7,"v":2.4},{"r":19,"c":8,"v":2.0},
{"r":20,"c":0,"v":1.8},{"r":20,"c":1,"v":2.1},{"r":20,"c":2,"v":2.3},{"r":20,"c":3,"v":2.4},{"r":20,"c":4,"v":2.4},{"r":20,"c":5,"v":2.2},{"r":20,"c":6,"v":1.9},
{"r":21,"c":0,"v":1.6},{"r":21,"c":1,"v":1.8},{"r":21,"c":2,"v":1.9},{"r":21,"c":3,"v":1.9},{"r":21,"c":4,"v":1.7},
{"r":22,"c":0,"v":1.5},{"r":22,"c":1,"v":1.6},{"r":22,"c":2,"v":1.6},
{"r":23,"c":0,"v":1.4}
],
"contA": [
{"id":"5","o":0,"e":0.888,"a":0},{"id":"5","o":1,"e":0.873,"a":0.044},{"id":"5","o":2,"e":0.848,"a":0.091},{"id":"5","o":3,"e":0.812,"a":0.146},{"id":"5","o":4,"e":0.766,"a":0.203},{"id":"5","o":5,"e":0.714,"a":0.258},{"id":"5","o":6,"e":0.652,"a":0.321},{"id":"5","o":7,"e":0.582,"a":0.391},{"id":"5","o":8,"e":0.511,"a":0.458},{"id":"5","o":9,"e":0.432,"a":0.537},{"id":"5","o":10,"e":0.34,"a":0.628},{"id":"5","o":11,"e":0.248,"a":0.72},{"id":"5","o":12,"e":0.162,"a":0.805},{"id":"5","o":13,"e":0.077,"a":0.89},{"id":"5","o":14,"e":0,"a":0.968},
{"id":"10","o":0,"e":0.496,"a":0},{"id":"10","o":1,"e":0.548,"a":0.007},{"id":"10","o":2,"e":0.594,"a":0.016},{"id":"10","o":3,"e":0.631,"a":0.035},{"id":"10","o":4,"e":0.652,"a":0.061},{"id":"10","o":5,"e":0.662,"a":0.096},{"id":"10","o":6,"e":0.655,"a":0.139},{"id":"10","o":7,"e":0.625,"a":0.203},{"id":"10","o":8,"e":0.582,"a":0.269},{"id":"10","o":9,"e":0.539,"a":0.332},{"id":"10","o":10,"e":0.478,"a":0.408},{"id":"10","o":11,"e":0.417,"a":0.479},{"id":"10","o":12,"e":0.346,"a":0.548},{"id":"10","o":13,"e":0.285,"a":0.611},{"id":"10","o":14,"e":0.224,"a":0.673},{"id":"10","o":15,"e":0.156,"a":0.734},{"id":"10","o":16,"e":0.086,"a":0.785},{"id":"10","o":17,"e":0,"a":0.833},
{"id":"15","o":0,"e":0.459,"a":0.21},{"id":"15","o":1,"e":0.441,"a":0.28},{"id":"15","o":2,"e":0.383,"a":0.382},{"id":"15","o":3,"e":0.291,"a":0.48},{"id":"15","o":4,"e":0.193,"a":0.551},{"id":"15","o":5,"e":0.126,"a":0.574},{"id":"15","o":6,"e":0.08,"a":0.565},{"id":"15","o":7,"e":0.04,"a":0.526},{"id":"15","o":8,"e":0.021,"a":0.456},{"id":"15","o":9,"e":0.021,"a":0.395},{"id":"15","o":10,"e":0.037,"a":0.308},{"id":"15","o":11,"e":0.08,"a":0.215},{"id":"15","o":12,"e":0.141,"a":0.15},{"id":"15","o":13,"e":0.224,"a":0.108},{"id":"15","o":14,"e":0.294,"a":0.1},{"id":"15","o":15,"e":0.377,"a":0.112},{"id":"15","o":16,"e":0.438,"a":0.15},{"id":"15","o":17,"e":0.459,"a":0.21}
],
"contB": [
{"id":"2","o":0,"e":0.7056,"a":0},{"id":"2","o":1,"e":0.7292,"a":0.0025},{"id":"2","o":2,"e":0.7708,"a":0.0073},{"id":"2","o":3,"e":0.8125,"a":0.0139},{"id":"2","o":4,"e":0.8542,"a":0.0247},{"id":"2","o":5,"e":0.8904,"a":0.06},{"id":"2","o":6,"e":0.8542,"a":0.128},{"id":"2","o":7,"e":0.8125,"a":0.1788},{"id":"2","o":8,"e":0.7708,"a":0.2249},{"id":"2","o":9,"e":0.7292,"a":0.2692},{"id":"2","o":10,"e":0.6927,"a":0.3033},{"id":"2","o":11,"e":0.6,"a":0.395},{"id":"2","o":12,"e":0.45,"a":0.545},{"id":"2","o":13,"e":0.3,"a":0.695},{"id":"2","o":14,"e":0.2292,"a":0.7655},{"id":"2","o":15,"e":0.1875,"a":0.8072},{"id":"2","o":16,"e":0.1458,"a":0.8485},{"id":"2","o":17,"e":0.1042,"a":0.8896},{"id":"2","o":18,"e":0.0625,"a":0.928},{"id":"2","o":19,"e":0.0208,"a":0.9648},{"id":"2","o":20,"e":0,"a":0.9826},
{"id":"4","o":0,"e":0.3148,"a":0},{"id":"4","o":1,"e":0.3542,"a":0.0058},{"id":"4","o":2,"e":0.3958,"a":0.0115},{"id":"4","o":3,"e":0.4375,"a":0.0172},{"id":"4","o":4,"e":0.4792,"a":0.0228},{"id":"4","o":5,"e":0.5208,"a":0.0286},{"id":"4","o":6,"e":0.5625,"a":0.0351},{"id":"4","o":7,"e":0.6042,"a":0.0428},{"id":"4","o":8,"e":0.6458,"a":0.0519},{"id":"4","o":9,"e":0.6875,"a":0.0659},{"id":"4","o":10,"e":0.7292,"a":0.0919},{"id":"4","o":11,"e":0.7443,"a":0.135},{"id":"4","o":12,"e":0.7292,"a":0.1796},{"id":"4","o":13,"e":0.6875,"a":0.2451},{"id":"4","o":14,"e":0.6458,"a":0.2978},{"id":"4","o":15,"e":0.6042,"a":0.3462},{"id":"4","o":16,"e":0.5625,"a":0.392},{"id":"4","o":17,"e":0.5208,"a":0.4365},{"id":"4","o":18,"e":0.4792,"a":0.48},{"id":"4","o":19,"e":0.4375,"a":0.5226},{"id":"4","o":20,"e":0.3958,"a":0.5645},{"id":"4","o":21,"e":0.3542,"a":0.6058},{"id":"4","o":22,"e":0.3125,"a":0.6463},{"id":"4","o":23,"e":0.2708,"a":0.6861},{"id":"4","o":24,"e":0.2292,"a":0.7252},{"id":"4","o":25,"e":0.1875,"a":0.7631},{"id":"4","o":26,"e":0.1458,"a":0.7998},{"id":"4","o":27,"e":0.1042,"a":0.8345},{"id":"4","o":28,"e":0.0625,"a":0.867},{"id":"4","o":29,"e":0.0208,"a":0.8951},{"id":"4","o":30,"e":0,"a":0.907},
{"id":"6","o":0,"e":0.0557,"a":0},{"id":"6","o":1,"e":0.0625,"a":0.0023},{"id":"6","o":2,"e":0.1042,"a":0.0139},{"id":"6","o":3,"e":0.1458,"a":0.023},{"id":"6","o":4,"e":0.1875,"a":0.0303},{"id":"6","o":5,"e":0.2292,"a":0.037},{"id":"6","o":6,"e":0.2708,"a":0.0432},{"id":"6","o":7,"e":0.3125,"a":0.049},{"id":"6","o":8,"e":0.3542,"a":0.0551},{"id":"6","o":9,"e":0.3958,"a":0.0616},{"id":"6","o":10,"e":0.4375,"a":0.0687},{"id":"6","o":11,"e":0.4792,"a":0.0771},{"id":"6","o":12,"e":0.5208,"a":0.0877},{"id":"6","o":13,"e":0.5625,"a":0.1022},{"id":"6","o":14,"e":0.6042,"a":0.1266},{"id":"6","o":15,"e":0.6317,"a":0.2},{"id":"6","o":16,"e":0.6042,"a":0.2627},{"id":"6","o":17,"e":0.5625,"a":0.3252},{"id":"6","o":18,"e":0.5208,"a":0.3775},{"id":"6","o":19,"e":0.4792,"a":0.4259},{"id":"6","o":20,"e":0.4375,"a":0.4712},{"id":"6","o":21,"e":0.3958,"a":0.5146},{"id":"6","o":22,"e":0.3542,"a":0.5566},{"id":"6","o":23,"e":0.3125,"a":0.5971},{"id":"6","o":24,"e":0.2708,"a":0.6362},{"id":"6","o":25,"e":0.2292,"a":0.6736},{"id":"6","o":26,"e":0.1875,"a":0.709},{"id":"6","o":27,"e":0.1458,"a":0.7421},{"id":"6","o":28,"e":0.1042,"a":0.7717},{"id":"6","o":29,"e":0.0625,"a":0.7968},{"id":"6","o":30,"e":0.0208,"a":0.814},{"id":"6","o":31,"e":0,"a":0.8186},
{"id":"8","o":0,"e":0,"a":0.0878},{"id":"8","o":1,"e":0.0208,"a":0.0875},{"id":"8","o":2,"e":0.0625,"a":0.088},{"id":"8","o":3,"e":0.1042,"a":0.0895},{"id":"8","o":4,"e":0.1458,"a":0.0918},{"id":"8","o":5,"e":0.1875,"a":0.0949},{"id":"8","o":6,"e":0.2292,"a":0.0988},{"id":"8","o":7,"e":0.2708,"a":0.1036},{"id":"8","o":8,"e":0.3125,"a":0.1094},{"id":"8","o":9,"e":0.3542,"a":0.1166},{"id":"8","o":10,"e":0.3958,"a":0.1263},{"id":"8","o":11,"e":0.4375,"a":0.1392},{"id":"8","o":12,"e":0.4792,"a":0.1593},{"id":"8","o":13,"e":0.5208,"a":0.2126},{"id":"8","o":14,"e":0.5232,"a":0.235},{"id":"8","o":15,"e":0.5208,"a":0.2524},{"id":"8","o":16,"e":0.4792,"a":0.3438},{"id":"8","o":17,"e":0.4375,"a":0.4005},{"id":"8","o":18,"e":0.3958,"a":0.4501},{"id":"8","o":19,"e":0.3542,"a":0.4949},{"id":"8","o":20,"e":0.3125,"a":0.5367},{"id":"8","o":21,"e":0.2708,"a":0.5757},{"id":"8","o":22,"e":0.2292,"a":0.6118},{"id":"8","o":23,"e":0.1875,"a":0.6444},{"id":"8","o":24,"e":0.1458,"a":0.6731},{"id":"8","o":25,"e":0.1042,"a":0.6963},{"id":"8","o":26,"e":0.0625,"a":0.711},{"id":"8","o":27,"e":0.0208,"a":0.7125},{"id":"8","o":28,"e":0,"a":0.7056},
{"id":"10","o":0,"e":0,"a":0.2838},{"id":"10","o":1,"e":0.0208,"a":0.2455},{"id":"10","o":2,"e":0.0625,"a":0.209},{"id":"10","o":3,"e":0.1042,"a":0.1918},{"id":"10","o":4,"e":0.1458,"a":0.1835},{"id":"10","o":5,"e":0.1875,"a":0.1804},{"id":"10","o":6,"e":0.2292,"a":0.1814},{"id":"10","o":7,"e":0.2708,"a":0.1863},{"id":"10","o":8,"e":0.3125,"a":0.1956},{"id":"10","o":9,"e":0.3542,"a":0.2128},{"id":"10","o":10,"e":0.3958,"a":0.2552},{"id":"10","o":11,"e":0.4017,"a":0.285},{"id":"10","o":12,"e":0.3958,"a":0.3219},{"id":"10","o":13,"e":0.3542,"a":0.3988},{"id":"10","o":14,"e":0.3125,"a":0.4505},{"id":"10","o":15,"e":0.2708,"a":0.493},{"id":"10","o":16,"e":0.2292,"a":0.5292},{"id":"10","o":17,"e":0.1875,"a":0.5589},{"id":"10","o":18,"e":0.1458,"a":0.5814},{"id":"10","o":19,"e":0.1042,"a":0.5942},{"id":"10","o":20,"e":0.0625,"a":0.5903},{"id":"10","o":21,"e":0.0208,"a":0.5547},{"id":"10","o":22,"e":0,"a":0.5096},
{"id":"11","o":0,"e":0.0625,"a":0.4},{"id":"11","o":1,"e":0.1042,"a":0.2956},{"id":"11","o":2,"e":0.1458,"a":0.2698},{"id":"11","o":3,"e":0.1875,"a":0.2597},{"id":"11","o":4,"e":0.2292,"a":0.2605},{"id":"11","o":5,"e":0.2708,"a":0.2749},{"id":"11","o":6,"e":0.3016,"a":0.33},{"id":"11","o":7,"e":0.2708,"a":0.4046},{"id":"11","o":8,"e":0.2292,"a":0.4498},{"id":"11","o":9,"e":0.1875,"a":0.4793},{"id":"11","o":10,"e":0.1458,"a":0.4952},{"id":"11","o":11,"e":0.1042,"a":0.4906},{"id":"11","o":12,"e":0.0625,"a":0.4}
],
"lblA": [{"t":"5","e":0.499,"a":0.464},{"t":"10","e":0.539,"a":0.332},{"t":"15","e":0.0368,"a":0.39},{"t":"10","e":0.0551,"a":-0.0117}],
"lblB": [{"t":"2","e":0.752,"a":0.245},{"t":"4","e":0.727,"a":0.2025},{"t":"6","e":0.646,"a":0.154},{"t":"8","e":0.547,"a":0.19},{"t":"10","e":0.441,"a":0.321},{"t":"11","e":0.1305,"a":0.385}]
},
"hconcat": [
{
"width": 443, "height": 445,
"encoding": {
"x": {"field": "x", "type": "quantitative", "scale": {"domain": [-0.09019, 1.08488], "nice": false, "zero": false}, "axis": null},
"y": {"field": "y", "type": "quantitative", "scale": {"domain": [-0.13793, 1.04244], "nice": false, "zero": false}, "axis": null}
},
"layer": [
{"data": {"name": "cellsA"},
 "transform": [
  {"calculate": "(datum.c + 1 + datum.r) / 48", "as": "x"},
  {"calculate": "(datum.r + 0.5) * 0.8660254 / 24", "as": "y"},
  {"calculate": "datum.c % 2 == 0 ? 'triangle-up' : 'triangle-down'", "as": "shp"}
 ],
 "mark": {"type": "point", "filled": true, "size": 284, "opacity": 1, "strokeWidth": 0},
 "encoding": {
  "shape": {"field": "shp", "type": "nominal", "scale": null},
  "color": {"field": "v", "type": "quantitative",
   "scale": {"domain": [1.98, 5.6925, 9.405, 13.1175, 16.83], "range": ["#0000ff", "#00ffff", "#00ff00", "#ffff00", "#ff0000"], "clamp": true, "interpolate": "rgb"},
   "legend": {"type": "gradient", "orient": "none", "legendX": 313, "legendY": 79, "direction": "horizontal", "gradientLength": 62, "gradientThickness": 23, "title": null, "labelOpacity": 0, "labelFontSize": 1, "padding": 0, "gradientStrokeColor": "#333", "gradientStrokeWidth": 1}}
 }},
{"data": {"name": "contA"},
 "transform": [{"calculate": "datum.a + datum.e / 2", "as": "x"}, {"calculate": "datum.e * 0.8660254", "as": "y"}],
 "mark": {"type": "line", "interpolate": "catmull-rom", "color": "#1a1a1a", "strokeWidth": 1.6, "opacity": 0.75},
 "encoding": {"detail": {"field": "id"}, "order": {"field": "o", "type": "quantitative"}}},
{"data": {"name": "tri"},
 "transform": [{"calculate": "datum.a + datum.e / 2", "as": "x"}, {"calculate": "datum.e * 0.8660254", "as": "y"}],
 "mark": {"type": "line", "color": "#2a2a2a", "strokeWidth": 1.5, "opacity": 0.85},
 "encoding": {"order": {"field": "o", "type": "quantitative"}}},
{"data": {"name": "design"},
 "transform": [{"calculate": "datum.a + datum.e / 2", "as": "x"}, {"calculate": "datum.e * 0.8660254", "as": "y"}],
 "mark": {"type": "point", "filled": true, "size": 50, "color": "#b01515", "stroke": "#6a0a0a", "strokeWidth": 0.8, "opacity": 1}},
{"data": {"name": "lblA"},
 "transform": [{"calculate": "datum.a + datum.e / 2", "as": "x"}, {"calculate": "datum.e * 0.8660254", "as": "y"}],
 "mark": {"type": "point", "shape": "square", "filled": true, "size": 110, "color": "white", "stroke": "#777", "strokeWidth": 0.8, "opacity": 1}},
{"data": {"name": "lblA"},
 "transform": [{"calculate": "datum.a + datum.e / 2", "as": "x"}, {"calculate": "datum.e * 0.8660254", "as": "y"}],
 "mark": {"type": "text", "fontSize": 7, "color": "#444", "align": "center", "baseline": "middle"},
 "encoding": {"text": {"field": "t"}}},
{"data": {"values": [{"x": 0.0743, "y": 0.8674, "t": "(a)"}]},
 "mark": {"type": "text", "fontSize": 28, "color": "#111", "align": "center", "baseline": "alphabetic"},
 "encoding": {"text": {"field": "t"}}},
{"data": {"values": [{"x": 0.504, "y": 0.9416, "t": "Ethanol"}]},
 "mark": {"type": "text", "fontSize": 21, "color": "#222", "align": "center", "baseline": "alphabetic"},
 "encoding": {"text": {"field": "t"}}},
{"data": {"values": [{"x": 0.01, "y": -0.122, "t": "Water"}, {"x": 0.4907, "y": -0.122, "t": "TPC (mgGAE/g db)"}, {"x": 0.9708, "y": -0.122, "t": "Acetone"}]},
 "mark": {"type": "text", "fontSize": 20, "color": "#222", "align": "center", "baseline": "alphabetic"},
 "encoding": {"text": {"field": "t"}}},
{"data": {"values": [{"x": 0.5, "y": 0.8727, "t": "1"}, {"x": 0.2149, "y": 0.4509, "t": "0"}, {"x": 0.7825, "y": 0.4509, "t": "0"}, {"x": 0.0106, "y": -0.0584, "t": "1"}, {"x": 0.5013, "y": -0.0584, "t": "0"}, {"x": 1.0, "y": -0.0584, "t": "1"}]},
 "mark": {"type": "text", "fontSize": 11, "color": "#555", "align": "center", "baseline": "alphabetic"},
 "encoding": {"text": {"field": "t"}}},
{"data": {"values": [{"x": 0.7003, "y": 0.7851, "t": "1.98"}]},
 "mark": {"type": "text", "fontSize": 16, "color": "#3232c8", "align": "right", "baseline": "alphabetic"},
 "encoding": {"text": {"field": "t"}}},
{"data": {"values": [{"x": 0.9257, "y": 0.7851, "t": "16.83"}]},
 "mark": {"type": "text", "fontSize": 16, "color": "#e02828", "align": "left", "baseline": "alphabetic"},
 "encoding": {"text": {"field": "t"}}}
]
},
{
"width": 443, "height": 445,
"encoding": {
"x": {"field": "x", "type": "quantitative", "scale": {"domain": [-0.11222, 1.07993], "nice": false, "zero": false}, "axis": null},
"y": {"field": "y", "type": "quantitative", "scale": {"domain": [-0.13455, 1.06297], "nice": false, "zero": false}, "axis": null}
},
"layer": [
{"data": {"name": "cellsB"},
 "transform": [
  {"calculate": "(datum.c + 1 + datum.r) / 48", "as": "x"},
  {"calculate": "(datum.r + 0.5) * 0.8660254 / 24", "as": "y"},
  {"calculate": "datum.c % 2 == 0 ? 'triangle-up' : 'triangle-down'", "as": "shp"}
 ],
 "mark": {"type": "point", "filled": true, "size": 276, "opacity": 1, "strokeWidth": 0},
 "encoding": {
  "shape": {"field": "shp", "type": "nominal", "scale": null},
  "color": {"field": "v", "type": "quantitative",
   "scale": {"domain": [1.3, 3.7475, 6.195, 8.6425, 11.09], "range": ["#0000ff", "#00ffff", "#00ff00", "#ffff00", "#ff0000"], "clamp": true, "interpolate": "rgb"},
   "legend": {"type": "gradient", "orient": "none", "legendX": 323, "legendY": 77, "direction": "horizontal", "gradientLength": 63, "gradientThickness": 23, "title": null, "labelOpacity": 0, "labelFontSize": 1, "padding": 0, "gradientStrokeColor": "#333", "gradientStrokeWidth": 1}}
 }},
{"data": {"name": "contB"},
 "transform": [{"calculate": "datum.a + datum.e / 2", "as": "x"}, {"calculate": "datum.e * 0.8660254", "as": "y"}],
 "mark": {"type": "line", "interpolate": "catmull-rom", "color": "#1a1a1a", "strokeWidth": 1.6, "opacity": 0.75},
 "encoding": {"detail": {"field": "id"}, "order": {"field": "o", "type": "quantitative"}}},
{"data": {"name": "tri"},
 "transform": [{"calculate": "datum.a + datum.e / 2", "as": "x"}, {"calculate": "datum.e * 0.8660254", "as": "y"}],
 "mark": {"type": "line", "color": "#2a2a2a", "strokeWidth": 1.5, "opacity": 0.85},
 "encoding": {"order": {"field": "o", "type": "quantitative"}}},
{"data": {"name": "design"},
 "transform": [{"calculate": "datum.a + datum.e / 2", "as": "x"}, {"calculate": "datum.e * 0.8660254", "as": "y"}],
 "mark": {"type": "point", "filled": true, "size": 50, "color": "#b01515", "stroke": "#6a0a0a", "strokeWidth": 0.8, "opacity": 1}},
{"data": {"name": "lblB"},
 "transform": [{"calculate": "datum.a + datum.e / 2", "as": "x"}, {"calculate": "datum.e * 0.8660254", "as": "y"}],
 "mark": {"type": "point", "shape": "square", "filled": true, "size": 110, "color": "white", "stroke": "#777", "strokeWidth": 0.8, "opacity": 1}},
{"data": {"name": "lblB"},
 "transform": [{"calculate": "datum.a + datum.e / 2", "as": "x"}, {"calculate": "datum.e * 0.8660254", "as": "y"}],
 "mark": {"type": "text", "fontSize": 7, "color": "#444", "align": "center", "baseline": "middle"},
 "encoding": {"text": {"field": "t"}}},
{"data": {"values": [{"x": 0.0398, "y": 0.8854, "t": "(b)"}]},
 "mark": {"type": "text", "fontSize": 28, "color": "#111", "align": "center", "baseline": "alphabetic"},
 "encoding": {"text": {"field": "t"}}},
{"data": {"values": [{"x": 0.4865, "y": 0.9473, "t": "Ethanol"}]},
 "mark": {"type": "text", "fontSize": 21, "color": "#222", "align": "center", "baseline": "alphabetic"},
 "encoding": {"text": {"field": "t"}}},
{"data": {"values": [{"x": 0.0264, "y": -0.1184, "t": "Water"}, {"x": 0.5, "y": -0.1184, "t": "TFC (mgRE/g db)"}, {"x": 0.9642, "y": -0.1184, "t": "Acetone"}]},
 "mark": {"type": "text", "fontSize": 20, "color": "#222", "align": "center", "baseline": "alphabetic"},
 "encoding": {"text": {"field": "t"}}},
{"data": {"values": [{"x": 0.5005, "y": 0.8854, "t": "1"}, {"x": 0.2107, "y": 0.4494, "t": "0"}, {"x": 0.7866, "y": 0.4494, "t": "0"}, {"x": 0.0135, "y": -0.0538, "t": "1"}, {"x": 0.5005, "y": -0.0538, "t": "0"}, {"x": 1.0, "y": -0.0538, "t": "1"}]},
 "mark": {"type": "text", "fontSize": 11, "color": "#555", "align": "center", "baseline": "alphabetic"},
 "encoding": {"text": {"field": "t"}}},
{"data": {"values": [{"x": 0.6951, "y": 0.8073, "t": "1.3"}]},
 "mark": {"type": "text", "fontSize": 16, "color": "#3232c8", "align": "right", "baseline": "alphabetic"},
 "encoding": {"text": {"field": "t"}}},
{"data": {"values": [{"x": 0.9373, "y": 0.8073, "t": "11.09"}]},
 "mark": {"type": "text", "fontSize": 16, "color": "#e02828", "align": "left", "baseline": "alphabetic"},
 "encoding": {"text": {"field": "t"}}}
]
}
]
}
